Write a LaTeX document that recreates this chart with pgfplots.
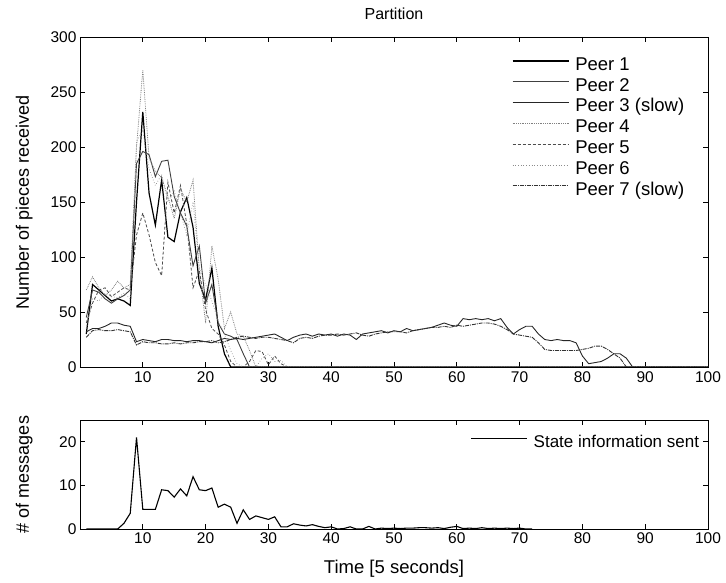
\documentclass[border=0pt]{standalone}
\usepackage{pgfplots}
\pgfplotsset{compat=1.18}
\usepackage{fontspec}
\setmainfont{Liberation Sans}
\begin{document}
\begin{tikzpicture}[x=1pt,y=1pt]
\useasboundingbox (0,0) rectangle (726,582);
\pgfplotsset{
  myax/.style={
    scale only axis, width=628pt, xmin=0, xmax=100,
    xtick={10,20,...,100},
    tick align=inside, major tick length=5pt,
    xtick pos=both, ytick pos=both,
    axis line style={black, line width=0.8pt},
    tick style={black, line width=0.7pt},
    font=\fontsize{15.5}{18}\selectfont,
    /pgf/number format/assume math mode=true,
    legend cell align=left,
    legend image code/.code={\draw[##1] (0pt,4.5pt) -- (56pt,4.5pt);},
    legend style={draw=none, fill=none, font=\fontsize{18.5}{21}\selectfont,
      row sep=3.3pt, column sep=6pt, inner sep=0pt, outer sep=0pt,
      nodes={inner sep=0pt, text height=13.5pt, text depth=4pt}},
    xlabel style={font=\fontsize{18.5}{21}\selectfont},
    every axis y label/.style={at={(axis description cs:-0.089,0.5)}, rotate=90, anchor=center, font=\fontsize{18}{21}\selectfont},
  }
}
\begin{axis}[myax, at={(80pt,215pt)}, anchor=south west, height=330pt,
  ymin=0, ymax=300, ytick={0,50,...,300},
  xticklabel style={yshift=-1pt},
  ylabel={Number of pieces received},
  title={\fontsize{16}{18}\selectfont Partition}, title style={at={(axis description cs:0.5,1.052)}, anchor=center},
  legend style={at={(axis description cs:0.688,0.94)}, anchor=north west},
]
% Peer 1
\addplot[black, line width=1.2pt] coordinates {
(1,30)(2,75)(3,70)(4,65)(5,60)(6,62)(7,60)(8,56)(9,150)(10,232)(11,158)(12,129)(13,170)(14,118)(15,114)(16,141)(17,154)(18,127)(19,76)(20,61)(21,90)(22,37)(23,12)(24,0)(100,0)};
% Peer 2
\addplot[black!75, line width=0.9pt] coordinates {
(1,45)(2,70)(3,68)(4,62)(5,58)(6,62)(7,65)(8,70)(9,185)(10,196)(11,193)(12,173)(13,187)(14,188)(15,155)(16,140)(17,128)(18,92)(19,110)(20,58)(21,75)(22,40)(23,30)(24,28)(25,25)(26,12)(27,0)(100,0)};
% Peer 3 (slow)
\addplot[black!85, line width=0.9pt] coordinates {
(1,32)(2,35)(3,35)(4,37)(5,40)(6,40)(7,38)(8,37)(9,23)(10,25)(11,24)(12,23)(13,25)(14,25)(15,24)(16,24)(17,23)(18,24)(19,24)(20,23)(21,22)(22,24)(23,26)(24,25)(25,26)(26,25)(27,26)(28,27)(29,28)(30,29)(31,30)(32,27)(33,24)(34,27)(35,29)(36,30)(37,28)(38,30)(39,29)(40,30)(41,28)(42,30)(43,29)(44,25)(45,30)(46,31)(47,32)(48,33)(49,31)(50,33)(51,32)(52,35)(53,33)(54,34)(55,35)(56,36)(57,38)(58,40)(59,38)(60,37)(61,44)(62,43)(63,44)(64,43)(65,44)(66,42)(67,44)(68,36)(69,30)(70,34)(71,37)(72,37)(73,30)(74,25)(75,24)(76,25)(77,24)(78,24)(79,22)(80,10)(81,3)(82,4)(83,5)(84,8)(85,12)(86,12)(87,8)(88,0)(100,0)};
% Peer 4
\addplot[black!50, line width=0.8pt, densely dotted] coordinates {
(1,70)(2,82)(3,72)(4,65)(5,70)(6,78)(7,72)(8,75)(9,200)(10,270)(11,190)(12,178)(13,172)(14,155)(15,135)(16,162)(17,150)(18,170)(19,88)(20,40)(21,110)(22,80)(23,35)(24,50)(25,30)(26,28)(27,15)(28,0)(100,0)};
% Peer 5
\addplot[black!70, line width=0.8pt, densely dashed] coordinates {
(1,40)(2,58)(3,70)(4,72)(5,64)(6,68)(7,72)(8,70)(9,120)(10,140)(11,120)(12,95)(13,83)(14,168)(15,140)(16,165)(17,130)(18,72)(19,88)(20,52)(21,35)(22,30)(23,20)(24,5)(25,0)(26,0)(27,5)(28,15)(29,14)(30,2)(31,10)(32,3)(33,0)(100,0)};
% Peer 6
\addplot[black!45, line width=0.7pt, dotted] coordinates {
(1,35)(2,62)(3,60)(4,67)(5,64)(6,63)(7,67)(8,62)(9,205)(10,215)(11,180)(12,165)(13,175)(14,150)(15,160)(16,140)(17,120)(18,150)(19,90)(20,75)(21,60)(22,42)(23,30)(24,15)(25,3)(26,0)(28,0)(29,8)(30,12)(31,5)(32,6)(33,0)(100,0)};
% Peer 7 (slow)
\addplot[black!80, line width=0.9pt, dash pattern=on 4pt off 1pt on 1pt off 1pt] coordinates {
(1,27)(2,33)(3,34)(4,33)(5,33)(6,34)(7,33)(8,32)(9,20)(10,23)(11,22)(12,22)(13,21)(14,21)(15,22)(16,21)(17,22)(18,22)(19,23)(20,23)(21,24)(22,22)(23,23)(24,25)(25,27)(26,28)(27,27)(28,26)(29,27)(30,27)(31,26)(32,25)(33,24)(34,22)(35,26)(36,27)(37,26)(38,28)(39,29)(40,29)(41,30)(42,29)(43,30)(44,31)(45,29)(46,28)(47,30)(48,31)(49,32)(50,32)(51,32)(52,31)(53,33)(54,34)(55,35)(56,36)(57,36)(58,37)(59,36)(60,38)(61,37)(62,38)(63,39)(64,40)(65,40)(66,39)(67,37)(68,34)(69,30)(70,29)(71,28)(72,27)(73,22)(74,16)(75,15)(76,15)(77,15)(78,15)(79,15)(80,16)(81,17)(82,19)(83,19)(84,16)(85,12)(86,8)(87,0)(100,0)};
\legend{Peer 1, Peer 2, Peer 3 (slow), Peer 4, Peer 5, Peer 6, Peer 7 (slow)}
\end{axis}
\begin{axis}[myax, at={(80pt,53pt)}, anchor=south west, height=109pt,
  ymin=0, ymax=25, ytick={0,10,20},
  ylabel={\# of messages},
  xlabel={Time [5 seconds]},
  xlabel style={at={(axis description cs:0.5,-0.36)}, anchor=center},
  legend style={at={(axis description cs:0.622,0.869)}, anchor=north west, font=\fontsize{17}{21}\selectfont},
]
\addplot[black, line width=1.1pt] coordinates {
(1,0)(6,0)(7,1.3)(8,3.6)(9,21)(10,4.5)(11,4.5)(12,4.5)(13,9)(14,8.8)(15,7.3)(16,9.2)(17,7.6)(18,12)(19,9)(20,8.8)(21,9.4)(22,5)(23,5.7)(24,5)(25,1.3)(26,4.4)(27,2.2)(28,3)(29,2.6)(30,2.2)(31,2.8)(32,0.5)(33,0.5)(34,1.2)(35,0.9)(36,0.7)(37,1.0)(38,0.6)(39,0.3)(40,0.5)(41,0)(42,0.1)(43,0.5)(44,0)(45,0)(46,0.6)(47,0)(48,0.2)(49,0.1)(50,0.2)(51,0.1)(52,0.2)(53,0.2)(54,0.3)(55,0.3)(56,0.2)(57,0.3)(58,0.1)(59,0.4)(60,0.6)(61,0.1)(62,0.2)(63,0.1)(64,0.3)(65,0.1)(66,0.2)(67,0.1)(68,0.2)(69,0.1)(70,0.2)(71,0)(72,0)};
\legend{State information sent}
\end{axis}
\end{tikzpicture}
\end{document}
